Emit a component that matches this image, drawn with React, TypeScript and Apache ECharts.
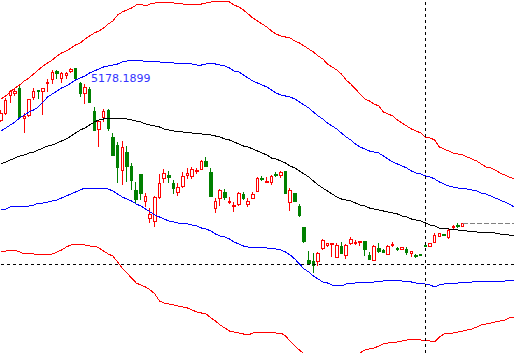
import React, { useEffect, useRef } from "react";
import * as echarts from "echarts";

// Candles: 100 bars (price scale)
const opens = [
  5180, 5187, 5204.5, 5207, 5212, 5182, 5185, 5203, 5210, 5209,
  5216.5, 5221, 5229, 5222, 5225, 5228.5, 5232, 5217, 5207, 5211,
  5188.5, 5170.5, 5183, 5190, 5163, 5155, 5129.5, 5147.5, 5133.5, 5110,
  5126, 5098.5, 5081.5, 5078.5, 5103, 5122, 5125, 5117, 5107.5, 5113.5,
  5124.5, 5123.5, 5128.5, 5131, 5139, 5127.5, 5092, 5102, 5107.5, 5098,
  5094, 5095.5, 5106, 5096, 5101.7, 5109, 5122, 5117.7, 5117.7, 5126,
  5124.3, 5128.3, 5097.7, 5107, 5093.5, 5073, 5040, 5038.3, 5038.3, 5051.3,
  5055, 5055.5, 5042.7, 5053.3, 5045, 5056.7, 5057, 5057.3, 5059, 5045,
  5040, 5051.7, 5049.3, 5046, 5054.5, 5051.7, 5051, 5051, 5046.7, 5045,
  5045.7, 5054.3, 5053.3, 5057.3, 5063.7, 5065.5, 5062.2, 5072.2, 5074.7, 5073.3,
];
const closes = [
  5187, 5200, 5208.5, 5209, 5183, 5183.5, 5201, 5209, 5208.5, 5211.5,
  5217.5, 5227.5, 5227, 5227, 5227, 5230.5, 5222, 5207, 5213, 5198,
  5170, 5179, 5189, 5172, 5145, 5133, 5153, 5133.5, 5120, 5101,
  5107, 5104, 5085.5, 5103, 5117, 5126.5, 5122.5, 5112, 5113, 5124,
  5127, 5130.5, 5129.5, 5139, 5134, 5104, 5098.5, 5110, 5103, 5099,
  5095, 5107, 5101.5, 5098.3, 5106, 5121.7, 5121, 5118.7, 5124, 5125,
  5127.7, 5106.7, 5109.7, 5099, 5085, 5058.3, 5036.7, 5034.7, 5046.7, 5060,
  5057, 5056.3, 5054.5, 5046.7, 5055, 5060.7, 5058, 5059, 5050.3, 5040.5,
  5053.3, 5048.3, 5048, 5054, 5055.7, 5050.7, 5052.5, 5047.5, 5048.3, 5043.3,
  5044.3, 5053.3, 5056.7, 5065, 5066.2, 5064.2, 5069.7, 5074, 5074, 5076.7,
];
const lows = [
  5178, 5185, 5197, 5204, 5183, 5167, 5183, 5200, 5201, 5185,
  5208, 5216, 5221, 5217, 5221, 5227, 5221, 5203, 5196, 5197,
  5169, 5153, 5178, 5169, 5144, 5117, 5115, 5118, 5110, 5096,
  5100, 5093, 5077.5, 5073, 5101, 5117, 5117, 5106, 5104, 5112,
  5121.5, 5121.5, 5126, 5130, 5133, 5103, 5087.5, 5094, 5100, 5096,
  5088.5, 5094, 5100.5, 5093.3, 5100.7, 5108.3, 5119, 5116.7, 5115, 5123.3,
  5122, 5106.5, 5089, 5098.5, 5083, 5057.5, 5035.5, 5027, 5034.5, 5050,
  5053, 5043.3, 5042, 5046, 5041, 5055, 5055, 5054, 5044.5, 5040,
  5039, 5046.7, 5046.7, 5045, 5053.3, 5049.3, 5050, 5045.5, 5043.3, 5042.5,
  5044, 5053, 5052.7, 5056.7, 5062.7, 5063.7, 5061, 5070.3, 5071.7, 5073,
];
const highs = [
  5190, 5202, 5210, 5212, 5214, 5187, 5201, 5212, 5210, 5212,
  5221, 5230, 5230, 5228, 5228, 5232, 5232.5, 5218.5, 5216.5, 5213,
  5193, 5179.5, 5191.5, 5191, 5167.5, 5158, 5159, 5154, 5137, 5118.5,
  5126.5, 5107, 5092.5, 5104, 5126, 5131.5, 5129.5, 5120, 5117, 5128,
  5132, 5133, 5132, 5140, 5143, 5132, 5102, 5111, 5111, 5103,
  5098, 5108, 5108, 5102.3, 5108.3, 5123.3, 5124.5, 5123.3, 5125, 5127.7,
  5129, 5128.5, 5111.7, 5107.3, 5096, 5073.3, 5049, 5046.8, 5048.3, 5060.7,
  5057.5, 5056.7, 5056.7, 5058.3, 5056, 5063.3, 5060, 5059.5, 5059.5, 5048.3,
  5055, 5056.7, 5050.7, 5055, 5058.3, 5053.3, 5053.5, 5053, 5048.7, 5046,
  5046, 5054.5, 5057.3, 5067.3, 5066.7, 5066, 5070.7, 5075, 5076.7, 5077,
];

// Bands (111 points: the indicators run 11 bars past the last candle)
const outerUpper = [
  5201, 5204, 5208, 5212, 5215, 5219, 5222, 5226, 5230, 5234,
  5237, 5240, 5244, 5247, 5249, 5252, 5255, 5257, 5261, 5264,
  5267, 5269, 5272, 5276, 5279, 5285, 5288, 5290, 5292, 5295,
  5296, 5294, 5296, 5297, 5298, 5298, 5298, 5297, 5297, 5296,
  5296, 5296, 5296, 5296, 5297, 5298, 5298.5, 5298.7, 5298.7, 5298,
  5295, 5293, 5290, 5286, 5282, 5279, 5276, 5273, 5269, 5266,
  5264, 5263, 5262, 5259, 5257, 5254, 5251, 5248, 5244, 5241,
  5236, 5233, 5230, 5226, 5220, 5216, 5211, 5206, 5201, 5199,
  5196, 5194, 5188, 5186, 5184, 5180, 5177, 5174, 5171, 5169,
  5167, 5163, 5162, 5160, 5153, 5151, 5149, 5147, 5146, 5145,
  5143, 5141, 5139, 5136, 5133, 5132, 5130, 5127, 5125, 5123, 5121,
];
const innerUpper = [
  5169, 5172, 5175, 5178, 5182, 5185, 5188, 5190, 5193, 5198,
  5203, 5206, 5209, 5212, 5214, 5217, 5220, 5222, 5224, 5227,
  5229, 5231, 5233, 5234, 5235, 5236, 5238, 5239, 5240, 5240,
  5240, 5238, 5239, 5239, 5238, 5238, 5238, 5237, 5237, 5237,
  5237, 5236, 5235, 5235, 5236, 5237, 5236, 5235, 5234, 5232,
  5229, 5228, 5225, 5222, 5219, 5217, 5215, 5213, 5210, 5207,
  5205, 5204, 5203, 5201, 5198, 5195, 5192, 5188, 5184, 5181,
  5177, 5174, 5171, 5167, 5163, 5160, 5156, 5153, 5151, 5149,
  5148, 5147, 5144, 5141, 5138, 5136, 5134, 5132, 5129, 5127,
  5126, 5124, 5123, 5121, 5118, 5116, 5114, 5113, 5112, 5112,
  5111, 5110, 5109, 5107, 5106, 5104, 5102, 5100, 5098, 5096, 5093,
];
const middle = [
  5136, 5138, 5140, 5142, 5144, 5145, 5147, 5148, 5150, 5152,
  5154, 5155, 5157, 5159, 5161, 5164, 5167, 5170, 5172, 5175,
  5178, 5180, 5181, 5182, 5182, 5182, 5182, 5181, 5180, 5179,
  5178, 5176, 5175, 5174, 5173, 5171, 5170, 5169, 5169, 5168,
  5168, 5167, 5167, 5166, 5166, 5165, 5164, 5163, 5161, 5160,
  5158, 5156, 5154, 5153, 5151, 5149, 5147, 5145, 5142, 5141,
  5139, 5137, 5134, 5132, 5129, 5126, 5123, 5119, 5115, 5112,
  5109, 5106, 5103, 5101, 5100, 5099, 5097, 5095, 5094, 5092,
  5091, 5090, 5089, 5088, 5087, 5086, 5084, 5083, 5081, 5080,
  5079, 5077, 5075, 5074, 5072, 5072, 5071, 5071, 5070, 5070,
  5069, 5069, 5068, 5068, 5068, 5067.5, 5067, 5066, 5066, 5065, 5064,
];
const innerLower = [
  5090, 5091, 5093, 5094, 5094, 5094, 5094, 5095, 5097, 5097,
  5098, 5099, 5100, 5102, 5104, 5106, 5108, 5110, 5112, 5112,
  5112, 5112, 5112, 5111, 5109, 5106, 5103, 5101, 5099, 5096,
  5094, 5091, 5088, 5085, 5083, 5081, 5079, 5078, 5077, 5077,
  5076, 5075, 5074, 5072, 5071, 5069, 5066, 5064, 5063, 5061,
  5058, 5056, 5054, 5053, 5053, 5053, 5053, 5052, 5052, 5051,
  5050, 5048, 5045, 5041, 5036, 5031, 5028, 5024, 5021, 5018,
  5017, 5015, 5015, 5014, 5016, 5017, 5017, 5018, 5018, 5017,
  5018, 5019, 5019, 5020, 5020, 5020, 5019, 5019, 5018, 5017,
  5017, 5016, 5015, 5013, 5015, 5016, 5017, 5017, 5017, 5018,
  5018, 5018, 5019, 5019, 5019, 5019, 5019, 5019, 5019, 5020, 5020,
];
const outerLower = [
  5048, 5049, 5050, 5050, 5048, 5046, 5047, 5046, 5045, 5046,
  5045, 5046, 5048, 5050, 5053, 5055, 5056, 5056, 5055, 5054,
  5054, 5052, 5049, 5046, 5044, 5038, 5032, 5027, 5022, 5017,
  5015, 5013, 5010, 5006, 4999, 4997, 4996, 4995, 4994, 4993,
  4992, 4990, 4988, 4987, 4986, 4982, 4979, 4975, 4972, 4969,
  4968, 4967, 4966, 4965, 4967, 4968, 4967, 4968, 4968, 4967,
  4967, 4964, 4959, 4954, 4950, 4946, 4943, 4940, 4938, 4937,
  4938, 4940, 4942, 4943, 4944, 4945, 4946, 4947, 4950, 4951,
  4952, 4954, 4956, 4957, 4958, 4958, 4959, 4960, 4961, 4961,
  4960, 4960, 4959, 4958, 4963, 4966, 4967, 4967, 4968, 4969,
  4970, 4971, 4973, 4975, 4976, 4977, 4978, 4979, 4980, 4982, 4983,
];

const crossBar = 91;
const crossPrice = 5036;
const lastIndex = 99;
const lastPrice = 5076.7;
const endIndex = 110;
const labelText = "5178.1899";
const priceMin = 4947;
const priceMax = 5300;

const categories = outerUpper.map((_, i) => String(i));

export default function App() {
  const ref = useRef<HTMLDivElement>(null);
  useEffect(() => {
    if (!ref.current) return;
    const chart = echarts.init(ref.current, undefined, { renderer: "svg" });
    const candles = opens.map((o, i) => [o, closes[i], lows[i], highs[i]]);
    const lineSeries = (data: number[], color: string) => ({
      type: "line",
      data,
      symbol: "none",
      showSymbol: false,
      silent: true,
      z: 3,
      lineStyle: { color, width: 1 },
    });
    chart.setOption({
      animation: false,
      backgroundColor: "#ffffff",
      grid: { left: 1, top: 0, width: 514.5, height: 353 },
      xAxis: {
        type: "category",
        data: categories,
        boundaryGap: false,
        show: false,
      },
      yAxis: {
        type: "value",
        min: priceMin,
        max: priceMax,
        show: false,
        splitLine: { show: false },
      },
      series: [
        {
          type: "candlestick",
          data: candles,
          barWidth: 3,
          z: 2,
          itemStyle: {
            color: "#ffffff",
            color0: "#008000",
            borderColor: "#ff0000",
            borderColor0: "#008000",
            borderWidth: 1,
          },
          markLine: {
            silent: true,
            symbol: ["none", "none"],
            label: { show: false },
            data: [
              { xAxis: crossBar, lineStyle: { color: "#000000", type: [3, 3], width: 1 } },
              { yAxis: crossPrice, lineStyle: { color: "#000000", type: [3, 3], width: 1 } },
              [
                { coord: [lastIndex, lastPrice], lineStyle: { color: "#808080", type: [5, 2], width: 1 } },
                { coord: [endIndex, lastPrice] },
              ],
            ],
          },
        },
        lineSeries(outerUpper, "#ff0000"),
        lineSeries(innerUpper, "#0000ff"),
        lineSeries(middle, "#000000"),
        lineSeries(innerLower, "#0000ff"),
        lineSeries(outerLower, "#ff0000"),
      ],
      graphic: [
        {
          type: "text",
          left: 91,
          top: 73,
          z: 10,
          style: {
            text: labelText,
            fill: "#3333ff",
            font: "11px 'DejaVu Sans'",
          },
        },
      ],
    });
    // crisp, non-antialiased strokes like the terminal's rendering
    const paths = ref.current.querySelectorAll("path");
    paths.forEach((p) => p.setAttribute("shape-rendering", "crispEdges"));
    return () => chart.dispose();
  }, []);
  return (
    <div
      ref={ref}
      style={{ position: "absolute", left: 0, top: 0, width: 514, height: 353, background: "#fff" }}
    />
  );
}
